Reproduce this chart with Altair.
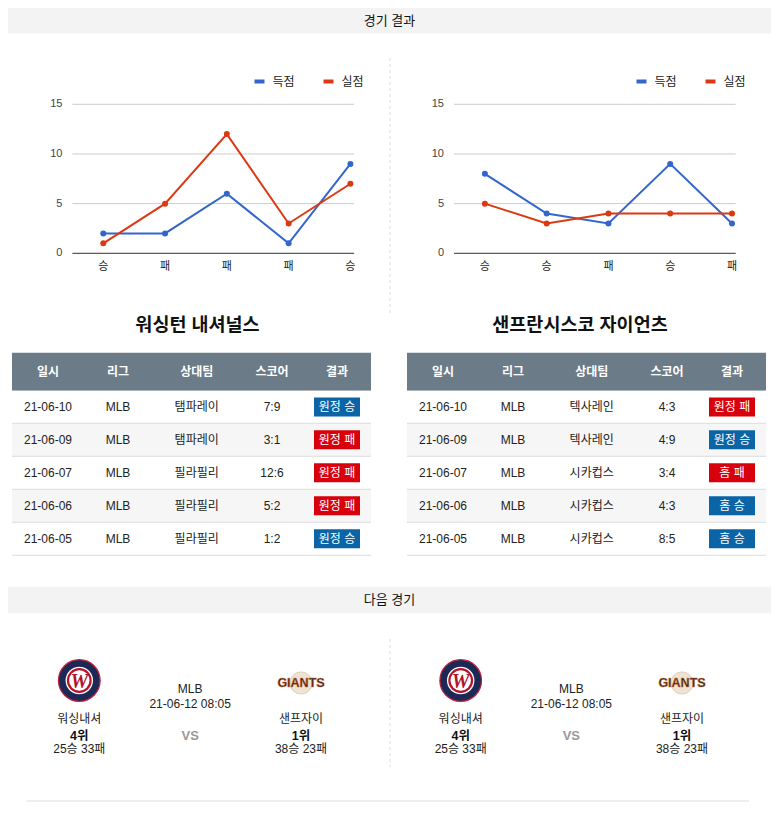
import math
import altair as alt
import pandas as pd

FONT = "Arial, 'Liberation Sans', 'Noto Sans CJK KR', sans-serif"

# ---------------- data ----------------
section_titles = ["경기 결과", "다음 경기"]
series_names = ["득점", "실점"]
series_colors = ["#3366cc", "#dc3912"]
y_ticks = [0, 5, 10, 15]

wsh_results = ["승", "패", "패", "패", "승"]
wsh_scored = [2, 2, 6, 1, 9]
wsh_allowed = [1, 5, 12, 3, 7]

sf_results = ["승", "승", "패", "승", "패"]
sf_scored = [8, 4, 3, 9, 3]
sf_allowed = [5, 3, 4, 4, 4]

team_titles = ["워싱턴 내셔널스", "샌프란시스코 자이언츠"]
table_columns = ["일시", "리그", "상대팀", "스코어", "결과"]
game_dates = ["21-06-10", "21-06-09", "21-06-07", "21-06-06", "21-06-05"]
game_leagues = ["MLB", "MLB", "MLB", "MLB", "MLB"]
wsh_opponents = ["탬파레이", "탬파레이", "필라필리", "필라필리", "필라필리"]
wsh_scores = ["7:9", "3:1", "12:6", "5:2", "1:2"]
wsh_outcomes = ["원정 승", "원정 패", "원정 패", "원정 패", "원정 승"]
sf_opponents = ["텍사레인", "텍사레인", "시카컵스", "시카컵스", "시카컵스"]
sf_scores = ["4:3", "4:9", "3:4", "4:3", "8:5"]
sf_outcomes = ["원정 패", "원정 승", "홈 패", "홈 승", "홈 승"]

next_league = ["MLB"]
next_time = ["21-06-12 08:05"]
next_vs = ["VS"]
next_teams = ["워싱내셔", "샌프자이"]
next_ranks = ["4위", "1위"]
next_records = ["25승 33패", "38승 23패"]
logo_marks = ["W", "GIANTS"]

# ---------------- layout ----------------
W, H = 763, 800
BADGE = "M-1,-0.413L1,-0.413L1,0.413L-1,0.413Z"


def header(label, y0, y1):
    df = pd.DataFrame({"label": [label]})
    bar = alt.Chart(df).mark_rect(color="#f3f3f3").encode(
        x=alt.value(0), x2=alt.value(W), y=alt.value(y0), y2=alt.value(y1))
    txt = alt.Chart(df).mark_text(fontSize=13, color="#111111", font=FONT,
                                  baseline="middle").encode(
        x=alt.value(W / 2), y=alt.value((y0 + y1) / 2), text="label:N")
    return [bar, txt]


def line_panel(results, scored, allowed, x_lo, legend_x):
    xs = alt.Scale(domain=[-0.5, 4.06], range=[x_lo, x_lo + 281.7], nice=False, zero=False)
    ys = alt.Scale(domain=[0, 15], range=[245.3, 96.3], nice=False, zero=False)
    cs = alt.Scale(domain=series_names, range=series_colors)
    leg = alt.Legend(
        title=None, orient="none", legendX=legend_x, legendY=66.5,
        direction="horizontal", symbolType="stroke", symbolSize=100,
        symbolStrokeWidth=4, labelFontSize=12, labelFont=FONT,
        labelColor="#222222", labelOffset=6, columnPadding=20, padding=0,
    )
    pts = pd.DataFrame({
        "game": list(range(5)) * 2,
        "series": [series_names[0]] * 5 + [series_names[1]] * 5,
        "score": scored + allowed,
    })
    ticks = pd.DataFrame({"tick": y_ticks})
    res = pd.DataFrame({"game": list(range(5)), "result": results})

    grid = alt.Chart(ticks).transform_filter("datum.tick > 0").mark_rule(
        color="#cccccc", strokeWidth=1).encode(
        x=alt.XDatum(-0.5, scale=xs, axis=None), x2=alt.X2Datum(4.06),
        y=alt.Y("tick:Q", scale=ys, axis=None))
    base = alt.Chart(ticks).transform_filter("datum.tick == 0").mark_rule(
        color="#333333", strokeWidth=1).encode(
        x=alt.XDatum(-0.5, scale=xs, axis=None), x2=alt.X2Datum(4.06),
        y=alt.Y("tick:Q", scale=ys, axis=None))
    ylab = alt.Chart(ticks).mark_text(align="right", baseline="middle", dx=-10,
                                      fontSize=11, color="#444444", font=FONT).encode(
        x=alt.XDatum(-0.5, scale=xs, axis=None),
        y=alt.Y("tick:Q", scale=ys, axis=None), text="tick:Q")
    xlab = alt.Chart(res).mark_text(baseline="middle", dy=13.4, fontSize=11,
                                    color="#222222", font=FONT).encode(
        x=alt.X("game:Q", scale=xs, axis=None),
        y=alt.YDatum(0, scale=ys, axis=None), text="result:N")
    line = alt.Chart(pts).mark_line(strokeWidth=2).encode(
        x=alt.X("game:Q", scale=xs, axis=None),
        y=alt.Y("score:Q", scale=ys, axis=None),
        color=alt.Color("series:N", scale=cs, legend=leg))
    dots = alt.Chart(pts).mark_point(filled=True, size=36, opacity=1).encode(
        x=alt.X("game:Q", scale=xs, axis=None),
        y=alt.Y("score:Q", scale=ys, axis=None),
        color=alt.Color("series:N", scale=cs, legend=leg))
    return alt.layer(grid, base, ylab, xlab, line, dots)


def table_panel(left, title, title_x, opponents, scores, outcomes):
    offs = [0, 36, 106, 184.7, 260, 325, 359]
    xs = alt.Scale(domain=[-0.5, 0, 1, 2, 3, 4, 4.5], range=[left + o for o in offs],
                   nice=False, zero=False)
    ys = alt.Scale(domain=[0, 1, 2, 3, 4, 5, 6],
                   range=[344.7, 382.7, 415.3, 448.3, 481.3, 514.3, 547.3],
                   nice=False, zero=False)
    rows = pd.DataFrame({"row": list(range(6))})
    bg = alt.Chart(rows).transform_calculate(
        row_end="datum.row + 1",
        bg="datum.row == 0 ? '#6b7b88' : (datum.row % 2 == 0 ? '#f6f6f6' : '#ffffff')",
    ).mark_rect().encode(
        x=alt.XDatum(-0.5, scale=xs, axis=None), x2=alt.X2Datum(4.5),
        y=alt.Y("row:Q", scale=ys, axis=None), y2="row_end:Q",
        color=alt.Color("bg:N", scale=None))
    sep = alt.Chart(rows).transform_filter("datum.row >= 1").transform_calculate(
        row_end="datum.row + 1").mark_rule(color="#dddddd", strokeWidth=1).encode(
        x=alt.XDatum(-0.5, scale=xs, axis=None), x2=alt.X2Datum(4.5),
        y=alt.Y("row_end:Q", scale=ys, axis=None))
    head = pd.DataFrame({"col": list(range(5)), "label": table_columns})
    htxt = alt.Chart(head).mark_text(color="white", fontWeight="bold", fontSize=12,
                                     font=FONT, baseline="middle").encode(
        x=alt.X("col:Q", scale=xs, axis=None),
        y=alt.YDatum(0.5, scale=ys, axis=None), text="label:N")
    recs = []
    for i in range(5):
        for c, col in enumerate([game_dates, game_leagues, opponents, scores]):
            recs.append({"row": i + 1, "col": c, "label": col[i]})
    cells = pd.DataFrame(recs)
    ctxt = alt.Chart(cells).transform_calculate(mid="datum.row + 0.5").mark_text(
        fontSize=12, color="#222222", font=FONT, baseline="middle").encode(
        x=alt.X("col:Q", scale=xs, axis=None),
        y=alt.Y("mid:Q", scale=ys, axis=None), text="label:N")
    res = pd.DataFrame({"row": list(range(1, 6)), "label": outcomes})
    badge = alt.Chart(res).transform_calculate(
        mid="datum.row + 0.5",
        bg="indexof(datum.label, '승') >= 0 ? '#0a64a6' : '#d8000c'",
    ).mark_point(shape=BADGE, size=46 * 46, filled=True, opacity=1, strokeWidth=0).encode(
        x=alt.XDatum(4, scale=xs, axis=None),
        y=alt.Y("mid:Q", scale=ys, axis=None),
        color=alt.Color("bg:N", scale=None))
    btxt = alt.Chart(res).transform_calculate(mid="datum.row + 0.5").mark_text(
        color="white", fontSize=12, font=FONT, baseline="middle").encode(
        x=alt.XDatum(4, scale=xs, axis=None),
        y=alt.Y("mid:Q", scale=ys, axis=None), text="label:N")
    ttl = alt.Chart(pd.DataFrame({"label": [title]})).mark_text(
        fontSize=18.5, fontWeight="bold", color="#111111", font=FONT,
        baseline="middle").encode(
        x=alt.value(title_x), y=alt.value(317), text="label:N")
    return alt.layer(bg, sep, htxt, ctxt, badge, btxt, ttl)


def next_panel():
    xs = alt.Scale(domain=[0, 2, 4, 6], range=[71.3, 293, 452.7, 674], nice=False, zero=False)

    def X():
        return alt.X("pos:Q", scale=xs, axis=None)

    teams = pd.DataFrame({"pos": [0, 2, 4, 6], "name": next_teams * 2,
                          "rank": next_ranks * 2, "record": next_records * 2})
    mid = pd.DataFrame({"pos": [1, 5], "league": next_league * 2,
                        "time": next_time * 2, "vs": next_vs * 2})
    nat = pd.DataFrame({"pos": [0, 4], "mark": [logo_marks[0]] * 2})
    gia = pd.DataFrame({"pos": [2, 6], "mark": [logo_marks[1]] * 2})

    def circ(df, r, fill, y, stroke=None, sw=0):
        kw = dict(size=math.pi * r * r, color=fill, opacity=1)
        if stroke:
            kw.update(stroke=stroke, strokeWidth=sw)
        return alt.Chart(df).mark_circle(**kw).encode(x=X(), y=alt.value(y))

    ny, gy = 672.5, 675
    layers = [
        circ(nat, 23.5, "#1c2957", ny, "#c41e3a", 1.2),
        circ(nat, 15.5, "#ffffff", ny),
        circ(nat, 14, "#b5122b", ny),
        circ(nat, 11.5, "#ffffff", ny),
        alt.Chart(nat).mark_text(font="Liberation Serif", fontStyle="italic",
                                 fontWeight="bold", fontSize=20, color="#b5122b",
                                 baseline="middle").encode(
            x=X(), y=alt.value(ny + 1), text="mark:N"),
        circ(gia, 12.5, "#efe3d4", gy, "#e3cfb9", 1),
        alt.Chart(gia).mark_text(font="Liberation Sans", fontWeight="bold", fontSize=12.5,
                                 color="#2e2018", stroke="#d9773a", strokeWidth=0.5,
                                 baseline="middle").encode(
            x=X(), y=alt.value(gy), text="mark:N"),
        alt.Chart(teams).mark_text(fontSize=12, color="#222222", font=FONT,
                                   baseline="middle").encode(
            x=X(), y=alt.value(711), text="name:N"),
        alt.Chart(teams).mark_text(fontSize=12.5, fontWeight="bold", color="#111111",
                                   font=FONT, baseline="middle").encode(
            x=X(), y=alt.value(728), text="rank:N"),
        alt.Chart(teams).mark_text(fontSize=12, color="#222222", font=FONT,
                                   baseline="middle").encode(
            x=X(), y=alt.value(740.5), text="record:N"),
        alt.Chart(mid).mark_text(fontSize=12, color="#222222", font=FONT,
                                 baseline="middle").encode(
            x=X(), y=alt.value(680.7), text="league:N"),
        alt.Chart(mid).mark_text(fontSize=12, color="#222222", font=FONT,
                                 baseline="middle").encode(
            x=X(), y=alt.value(696), text="time:N"),
        alt.Chart(mid).mark_text(fontSize=13, fontWeight="bold", color="#999999",
                                 font=FONT, baseline="middle").encode(
            x=X(), y=alt.value(728), text="vs:N"),
    ]
    return alt.layer(*layers)


one = pd.DataFrame({"k": [0]})
divider_top = alt.Chart(one).mark_rule(color="#dddddd", strokeDash=[3, 3]).encode(
    x=alt.value(382), y=alt.value(50), y2=alt.value(308))
divider_bottom = alt.Chart(one).mark_rule(color="#dddddd", strokeDash=[3, 3]).encode(
    x=alt.value(382), y=alt.value(631), y2=alt.value(759))
bottom_line = alt.Chart(one).mark_rule(color="#dddddd").encode(
    x=alt.value(18.7), x2=alt.value(741), y=alt.value(793))

layers = (
    header(section_titles[0], 0, 25.5)
    + [
        line_panel(wsh_results, wsh_scored, wsh_allowed, 64.4, 244.5),
        line_panel(sf_results, sf_scored, sf_allowed, 446, 626.5),
        divider_top,
        table_panel(4, team_titles[0], 189.5, wsh_opponents, wsh_scores, wsh_outcomes),
        table_panel(399, team_titles[1], 572, sf_opponents, sf_scores, sf_outcomes),
    ]
    + header(section_titles[1], 578.7, 605.3)
    + [next_panel(), divider_bottom, bottom_line]
)

chart = alt.layer(*layers).resolve_scale(
    x="independent", y="independent", color="independent"
).properties(
    width=W, height=H, padding=0, background="white"
).configure_view(stroke=None)

chart.save("out.html", embed_options={"renderer": "svg", "actions": False})
